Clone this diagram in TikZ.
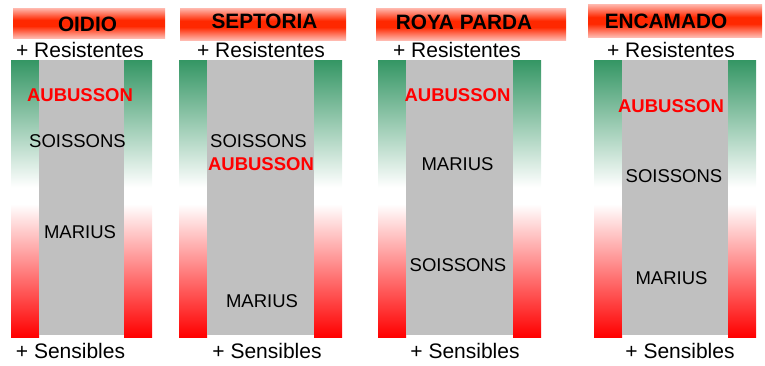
\documentclass[tikz,border=0pt]{standalone}
\usepackage{fontspec}
\setmainfont{Liberation Sans}
\definecolor{verde}{RGB}{52,150,100}
\definecolor{naranja}{RGB}{255,40,0}
\definecolor{rosa}{RGB}{255,185,175}
\definecolor{gris}{RGB}{192,192,192}
\pgfdeclareverticalshading{barra}{100bp}{color(0bp)=(red); color(25bp)=(red); color(49bp)=(white); color(52bp)=(white); color(75bp)=(verde); color(100bp)=(verde)}
\pgfdeclareverticalshading{cabecera}{100bp}{color(0bp)=(rosa); color(25bp)=(rosa); color(45bp)=(naranja); color(55bp)=(naranja); color(75bp)=(rosa); color(100bp)=(rosa)}
\tikzset{
  titulo/.style={font=\bfseries\fontsize{20.8}{22}\selectfont},
  extremo/.style={font=\fontsize{21}{23}\selectfont},
  variedad/.style={font=\fontsize{18.5}{20}\selectfont},
  destacada/.style={font=\bfseries\fontsize{18.5}{20}\selectfont, text=red},
}
\begin{document}
\begin{tikzpicture}[x=1pt,y=-1pt]
\useasboundingbox (0,0) rectangle (765,365);

% cabeceras
\foreach \xa/\xb/\ya/\yb in {13/165/8/38, 180/346/8/40, 376/566/8/40, 588/762/4/37}
    \shade[shading=cabecera] (\xa,\ya) rectangle (\xb,\yb);

% barras
\foreach \a/\b/\c/\d in {11/39/124/152, 179/207/314/342, 378/406/513/541, 594/622/728/756}
{
    \shade[shading=barra] (\a,60) rectangle (\b,337);
    \shade[shading=barra] (\c,60) rectangle (\d,337);
    \fill[gris] (\b,60) rectangle (\c,335);
}

\node[titulo] (oidio) at (87.5,24) {OIDIO};
\node[titulo] (septoria) at (264.5,21) {SEPTORIA};
\node[titulo] (roya) at (464,22) {ROYA PARDA};
\node[titulo] (encamado) at (666,21) {ENCAMADO};

\foreach \x/\n in {80/1, 261/2, 457/3, 671/4}
    \node[extremo] (res\n) at (\x,50) {+ Resistentes};
\foreach \x/\n in {70.5/1, 267/2, 465/3, 680/4}
    \node[extremo] (sen\n) at (\x,351) {+ Sensibles};

\node[destacada] (aub1) at (80,95) {AUBUSSON};
\node[variedad] (soi1) at (77.5,141) {SOISSONS};
\node[variedad] (mar1) at (80,232) {MARIUS};

\node[variedad] (soi2) at (258.5,141) {SOISSONS};
\node[destacada] (aub2) at (261,164.5) {AUBUSSON};
\node[variedad] (mar2) at (262,301) {MARIUS};

\node[destacada] (aub3) at (457.5,95) {AUBUSSON};
\node[variedad] (mar3) at (457.5,164) {MARIUS};
\node[variedad] (soi3) at (458,265) {SOISSONS};

\node[destacada] (aub4) at (671,106.5) {AUBUSSON};
\node[variedad] (soi4) at (674,176.5) {SOISSONS};
\node[variedad] (mar4) at (671.5,278) {MARIUS};
\end{tikzpicture}
\end{document}
